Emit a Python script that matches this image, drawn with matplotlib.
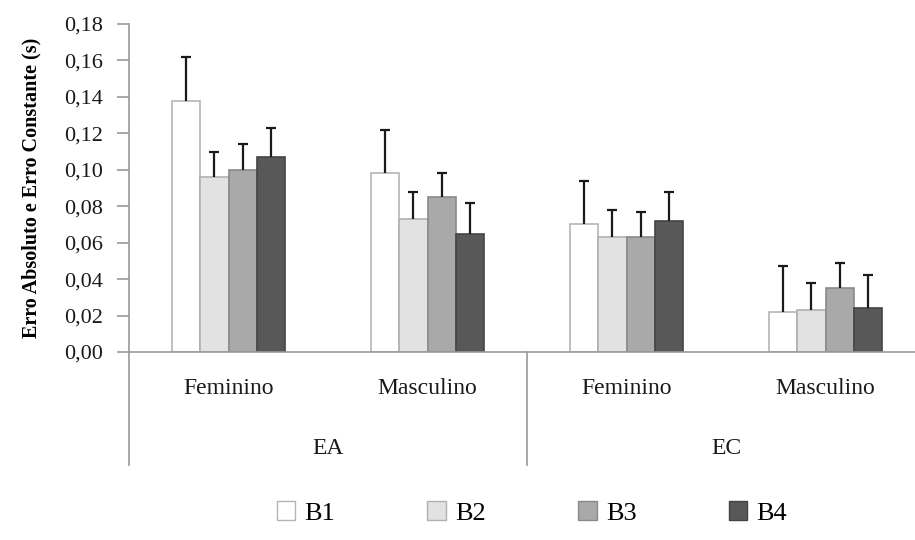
import matplotlib.pyplot as plt
import matplotlib.transforms as mtransforms
from matplotlib.patches import Patch
import numpy as np

plt.rcParams['font.family'] = ['Liberation Serif', 'DejaVu Serif']

# means and upper error (SD) per block, category order: EA-Fem, EA-Masc, EC-Fem, EC-Masc
subgroups = ['Feminino', 'Masculino', 'Feminino', 'Masculino']
groups = ['EA', 'EC']
series = ['B1', 'B2', 'B3', 'B4']
means = {
    'B1': [0.138, 0.098, 0.070, 0.022],
    'B2': [0.096, 0.073, 0.063, 0.023],
    'B3': [0.100, 0.085, 0.063, 0.035],
    'B4': [0.107, 0.065, 0.072, 0.024],
}
errors = {
    'B1': [0.024, 0.024, 0.024, 0.025],
    'B2': [0.014, 0.015, 0.015, 0.015],
    'B3': [0.014, 0.013, 0.014, 0.014],
    'B4': [0.016, 0.017, 0.016, 0.018],
}
colors = {'B1': '#ffffff', 'B2': '#e2e2e2', 'B3': '#a9a9a9', 'B4': '#585858'}
edges = {'B1': '#b5b5b5', 'B2': '#b0b0b0', 'B3': '#8a8a8a', 'B4': '#444444'}

fig = plt.figure(figsize=(9.15, 5.4), dpi=100)
ax = fig.add_axes([129 / 915, 1 - 352 / 540, 796 / 915, 328 / 540])

x = np.arange(len(subgroups)) + 0.5
width = 0.143
cap = 0.026
for i, s in enumerate(series):
    pos = x + (i - 1.5) * width
    m = np.array(means[s])
    top = m + np.array(errors[s])
    ax.bar(pos, m, width, color=colors[s], edgecolor=edges[s],
           linewidth=1.2, zorder=2)
    # upper error only, no lower cap
    ax.vlines(pos, m, top, color='#1a1a1a', linewidth=1.6, zorder=3)
    ax.hlines(top, pos - cap, pos + cap, color='#1a1a1a', linewidth=1.6, zorder=3)

ax.set_xlim(0, 4)
ax.set_ylim(0, 0.18)
yt = np.arange(0, 0.181, 0.02)
ax.set_yticks(yt)
ax.set_yticklabels([f'{v:.2f}'.replace('.', ',') for v in yt])
ax.tick_params(axis='y', direction='out', length=9, width=1.2, colors='#9a9a9a',
               labelsize=16, pad=10)
for lbl in ax.get_yticklabels():
    lbl.set_color('#1a1a1a')
ax.set_xticks([])
for side in ['top', 'right']:
    ax.spines[side].set_visible(False)
for side in ['left', 'bottom']:
    ax.spines[side].set_color('#9a9a9a')
    ax.spines[side].set_linewidth(1.2)

ax.set_ylabel('Erro Absoluto e Erro Constante (s)', fontsize=14.5,
              fontweight='bold', labelpad=16)

# two-level category axis
trans = mtransforms.blended_transform_factory(ax.transData, ax.transAxes)
bottom = -(465 - 352) / 328
for xv in [0, 2]:
    ax.plot([xv, xv], [0, bottom], transform=trans, color='#9a9a9a',
            linewidth=1.2, clip_on=False)
for xv, name in zip(x, subgroups):
    ax.text(xv, -(389 - 352) / 328, name, transform=trans, ha='center',
            va='center', fontsize=17, color='#1a1a1a')
for gi, name in enumerate(groups):
    ax.text(1 + 2 * gi, -(449 - 352) / 328, name, transform=trans,
            ha='center', va='center', fontsize=17, color='#1a1a1a')

handles = [Patch(facecolor=colors[s], edgecolor=edges[s], label=s) for s in series]
fig.legend(handles=handles, loc='center', bbox_to_anchor=(532 / 915, 1 - 513 / 540),
           ncol=4, frameon=False, fontsize=19, handlelength=0.7,
           handleheight=0.7, handletextpad=0.35, columnspacing=3.5)

fig.savefig('out.png', dpi=100)
